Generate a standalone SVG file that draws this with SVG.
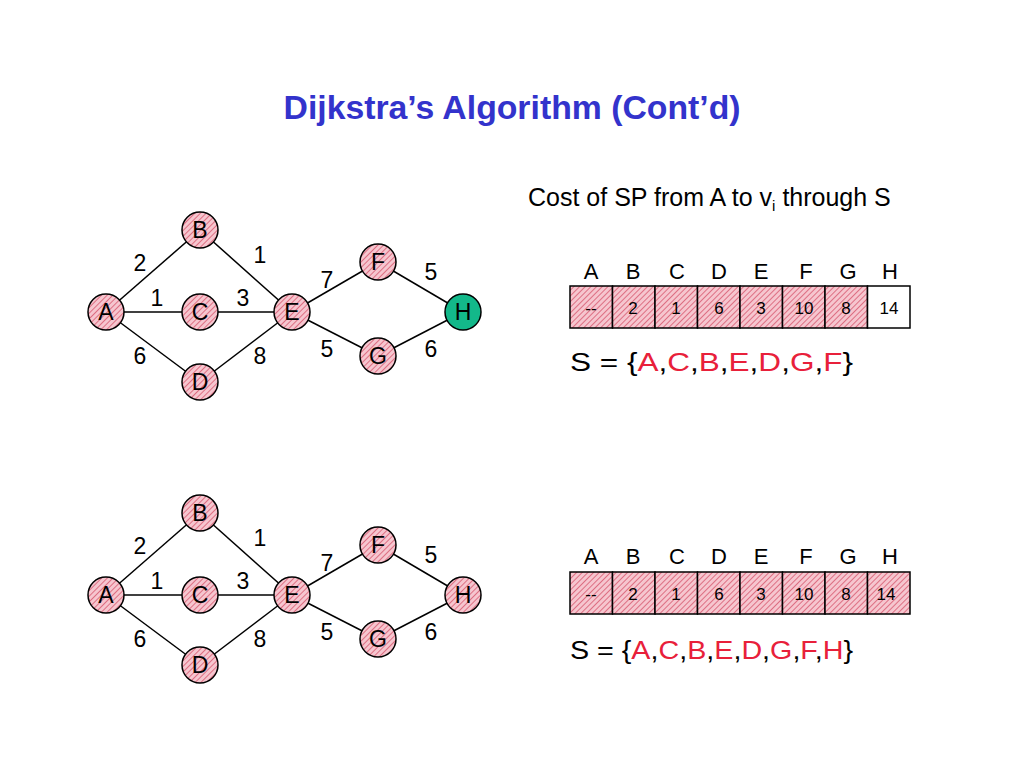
<svg xmlns="http://www.w3.org/2000/svg" width="1024" height="768" viewBox="0 0 1024 768">
<defs>
<pattern id="hatch" width="4" height="4" patternUnits="userSpaceOnUse" patternTransform="rotate(45)">
<rect width="4" height="4" fill="#f6c6cf"/>
<line x1="0" y1="0" x2="0" y2="4" stroke="#d0405a" stroke-width="1.3"/>
</pattern>
</defs>
<style>
text{font-family:"Liberation Sans",Arial,sans-serif;}
.n{stroke:#000;stroke-width:1.5;fill:url(#hatch);}
.h{stroke:#000;stroke-width:1.5;fill:#13b88a;}
.nt{font-size:23px;text-anchor:middle;}
.w{font-size:23px;text-anchor:middle;}
.e{stroke:#000;stroke-width:1.5;}
.c{stroke:#000;stroke-width:1.5;fill:url(#hatch);}
.cw{stroke:#000;stroke-width:1.5;fill:#fff;}
.ct{font-size:17px;text-anchor:middle;}
.hd{font-size:22px;text-anchor:middle;}
.s{font-size:26px;}
.r{fill:#e8203a;}
</style>
<rect width="1024" height="768" fill="#fff"/>
<text x="512" y="119" text-anchor="middle" font-size="33" font-weight="bold" fill="#3333cc" textLength="457" lengthAdjust="spacingAndGlyphs">Dijkstra’s Algorithm (Cont’d)</text>
<text x="528" y="206" font-size="25">Cost of SP from A to v<tspan font-size="15" dy="5">i</tspan><tspan dy="-5"> through S</tspan></text>

<g id="graph1">
<g id="connectors1">
<line class="e" x1="106" y1="312" x2="200" y2="230"/>
<line class="e" x1="106" y1="312" x2="200" y2="312"/>
<line class="e" x1="106" y1="312" x2="200" y2="382"/>
<line class="e" x1="200" y1="230" x2="292" y2="312"/>
<line class="e" x1="200" y1="312" x2="292" y2="312"/>
<line class="e" x1="200" y1="382" x2="292" y2="312"/>
<line class="e" x1="292" y1="312" x2="378" y2="262"/>
<line class="e" x1="292" y1="312" x2="378" y2="356"/>
<line class="e" x1="378" y1="262" x2="463" y2="312"/>
<line class="e" x1="378" y1="356" x2="463" y2="312"/>
</g>
<text class="w" x="140" y="271">2</text><text class="w" x="157" y="306">1</text><text class="w" x="140" y="364">6</text>
<text class="w" x="260" y="263">1</text><text class="w" x="243" y="306">3</text><text class="w" x="260" y="364">8</text>
<text class="w" x="327" y="288">7</text><text class="w" x="327" y="357">5</text>
<text class="w" x="431" y="280">5</text><text class="w" x="431" y="357">6</text>
<g id="A1"><circle class="n" cx="106" cy="312" r="18"/><text class="nt" x="106" y="320">A</text></g>
<g id="B1"><circle class="n" cx="200" cy="230" r="18"/><text class="nt" x="200" y="238">B</text></g>
<g id="C1"><circle class="n" cx="200" cy="312" r="18"/><text class="nt" x="200" y="320">C</text></g>
<g id="D1"><circle class="n" cx="200" cy="382" r="18"/><text class="nt" x="200" y="390">D</text></g>
<g id="E1"><circle class="n" cx="292" cy="312" r="18"/><text class="nt" x="292" y="320">E</text></g>
<g id="F1"><circle class="n" cx="378" cy="262" r="18"/><text class="nt" x="378" y="270">F</text></g>
<g id="G1"><circle class="n" cx="378" cy="356" r="18"/><text class="nt" x="378" y="364">G</text></g>
<g id="H1"><circle class="h" cx="463" cy="312" r="18"/><text class="nt" x="463" y="320">H</text></g>
</g>

<g id="graph2" transform="translate(0,283)">
<g id="connectors2">
<line class="e" x1="106" y1="312" x2="200" y2="230"/>
<line class="e" x1="106" y1="312" x2="200" y2="312"/>
<line class="e" x1="106" y1="312" x2="200" y2="382"/>
<line class="e" x1="200" y1="230" x2="292" y2="312"/>
<line class="e" x1="200" y1="312" x2="292" y2="312"/>
<line class="e" x1="200" y1="382" x2="292" y2="312"/>
<line class="e" x1="292" y1="312" x2="378" y2="262"/>
<line class="e" x1="292" y1="312" x2="378" y2="356"/>
<line class="e" x1="378" y1="262" x2="463" y2="312"/>
<line class="e" x1="378" y1="356" x2="463" y2="312"/>
</g>
<text class="w" x="140" y="271">2</text><text class="w" x="157" y="306">1</text><text class="w" x="140" y="364">6</text>
<text class="w" x="260" y="263">1</text><text class="w" x="243" y="306">3</text><text class="w" x="260" y="364">8</text>
<text class="w" x="327" y="288">7</text><text class="w" x="327" y="357">5</text>
<text class="w" x="431" y="280">5</text><text class="w" x="431" y="357">6</text>
<g id="A2"><circle class="n" cx="106" cy="312" r="18"/><text class="nt" x="106" y="320">A</text></g>
<g id="B2"><circle class="n" cx="200" cy="230" r="18"/><text class="nt" x="200" y="238">B</text></g>
<g id="C2"><circle class="n" cx="200" cy="312" r="18"/><text class="nt" x="200" y="320">C</text></g>
<g id="D2"><circle class="n" cx="200" cy="382" r="18"/><text class="nt" x="200" y="390">D</text></g>
<g id="E2"><circle class="n" cx="292" cy="312" r="18"/><text class="nt" x="292" y="320">E</text></g>
<g id="F2"><circle class="n" cx="378" cy="262" r="18"/><text class="nt" x="378" y="270">F</text></g>
<g id="G2"><circle class="n" cx="378" cy="356" r="18"/><text class="nt" x="378" y="364">G</text></g>
<g id="H2"><circle class="n" cx="463" cy="312" r="18"/><text class="nt" x="463" y="320">H</text></g>
</g>

<g id="table1">
<text class="hd" x="591" y="279">A</text><text class="hd" x="633" y="279">B</text><text class="hd" x="677" y="279">C</text><text class="hd" x="719" y="279">D</text><text class="hd" x="761" y="279">E</text><text class="hd" x="806" y="279">F</text><text class="hd" x="848" y="279">G</text><text class="hd" x="890" y="279">H</text>
<rect class="c" x="570" y="286" width="42.5" height="42"/><rect class="c" x="612.5" y="286" width="42.5" height="42"/><rect class="c" x="655" y="286" width="42.5" height="42"/><rect class="c" x="697.5" y="286" width="42.5" height="42"/><rect class="c" x="740" y="286" width="42.5" height="42"/><rect class="c" x="782.5" y="286" width="42.5" height="42"/><rect class="c" x="825" y="286" width="42.5" height="42"/><rect class="cw" x="867.5" y="286" width="42.5" height="42"/>
<text class="ct" x="591" y="314">--</text><text class="ct" x="633" y="314">2</text><text class="ct" x="676" y="314">1</text><text class="ct" x="719" y="314">6</text><text class="ct" x="761" y="314">3</text><text class="ct" x="804" y="314">10</text><text class="ct" x="846" y="314">8</text><text class="ct" x="889" y="314">14</text>
<text class="s" x="570" y="371" textLength="283" lengthAdjust="spacingAndGlyphs">S = {<tspan class="r">A</tspan>,<tspan class="r">C</tspan>,<tspan class="r">B</tspan>,<tspan class="r">E</tspan>,<tspan class="r">D</tspan>,<tspan class="r">G</tspan>,<tspan class="r">F</tspan>}</text>
</g>

<g id="table2">
<text class="hd" x="591" y="564">A</text><text class="hd" x="633" y="564">B</text><text class="hd" x="677" y="564">C</text><text class="hd" x="719" y="564">D</text><text class="hd" x="761" y="564">E</text><text class="hd" x="806" y="564">F</text><text class="hd" x="848" y="564">G</text><text class="hd" x="890" y="564">H</text>
<rect class="c" x="570" y="572" width="42.5" height="42"/><rect class="c" x="612.5" y="572" width="42.5" height="42"/><rect class="c" x="655" y="572" width="42.5" height="42"/><rect class="c" x="697.5" y="572" width="42.5" height="42"/><rect class="c" x="740" y="572" width="42.5" height="42"/><rect class="c" x="782.5" y="572" width="42.5" height="42"/><rect class="c" x="825" y="572" width="42.5" height="42"/><rect class="c" x="867.5" y="572" width="42.5" height="42"/>
<text class="ct" x="591" y="600">--</text><text class="ct" x="633" y="600">2</text><text class="ct" x="676" y="600">1</text><text class="ct" x="719" y="600">6</text><text class="ct" x="761" y="600">3</text><text class="ct" x="804" y="600">10</text><text class="ct" x="846" y="600">8</text><text class="ct" x="886" y="600">14</text>
<text class="s" x="570" y="659" textLength="283" lengthAdjust="spacingAndGlyphs">S = {<tspan class="r">A</tspan>,<tspan class="r">C</tspan>,<tspan class="r">B</tspan>,<tspan class="r">E</tspan>,<tspan class="r">D</tspan>,<tspan class="r">G</tspan>,<tspan class="r">F</tspan>,<tspan class="r">H</tspan>}</text>
</g>
</svg>
